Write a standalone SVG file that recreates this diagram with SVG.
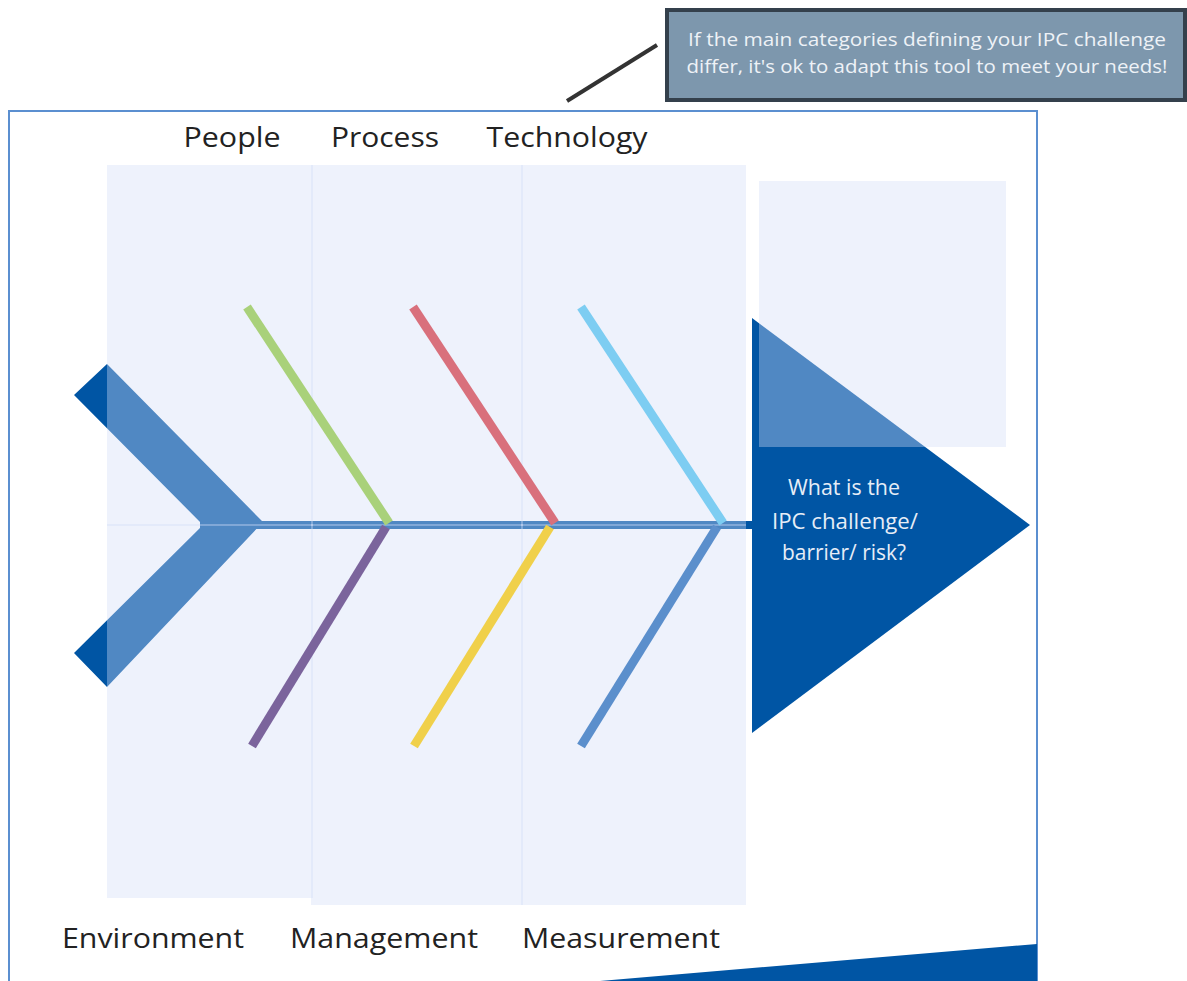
<svg xmlns="http://www.w3.org/2000/svg" width="1187" height="981" viewBox="0 0 1187 981">
<style>
.lbl{font-family:"Open Sans","Noto Sans","Liberation Sans",sans-serif;font-size:27px;fill:#222;text-anchor:middle}
.call{font-family:"Open Sans","Noto Sans","Liberation Sans",sans-serif;font-size:18.5px;fill:#eef2f7;text-anchor:middle}
.q{font-family:"Open Sans","Noto Sans","Liberation Sans",sans-serif;font-size:21px;fill:#e6edf7;text-anchor:middle}
.panel{fill:rgb(210,221,247);fill-opacity:0.38}
.bone{stroke-width:9;fill:none}
</style>
<rect width="1187" height="981" fill="#ffffff"/>
<g id="frame">
<rect x="9" y="111" width="1028" height="872" fill="#ffffff" stroke="#5b8fd0" stroke-width="2"/>
<polygon points="600,981 1037,944 1037,981" fill="#0055a4"/>
</g>
<g id="fish-tail">
<polygon points="74,395 107,364 263,522 107,687 74,653 203,525" fill="#0055a4"/>
</g>
<g id="head">
<polygon points="752,318 1030,525 752,733" fill="#0055a4"/>
</g>
<g id="connectors">
<line x1="200" y1="525" x2="754" y2="525" stroke="#0055a4" stroke-width="8"/>
</g>
<g id="panels">
<rect class="panel" x="107" y="165" width="206" height="361"/>
<rect class="panel" x="107" y="524" width="206" height="374"/>
<rect class="panel" x="311" y="165" width="212" height="361"/>
<rect class="panel" x="311" y="524" width="212" height="381"/>
<rect class="panel" x="521" y="165" width="225" height="361"/>
<rect class="panel" x="521" y="524" width="225" height="381"/>
<rect class="panel" x="759" y="181" width="247" height="266"/>
</g>
<g id="bones">
<line class="bone" x1="247" y1="307" x2="389" y2="523" stroke="#a9d17a"/>
<line class="bone" x1="413" y1="307" x2="555" y2="523" stroke="#d9707c"/>
<line class="bone" x1="581" y1="307" x2="723" y2="523" stroke="#7dcdf2"/>
<line class="bone" x1="386" y1="527" x2="252" y2="746" stroke="#7b649c"/>
<line class="bone" x1="550" y1="527" x2="414" y2="746" stroke="#f0d04a"/>
<line class="bone" x1="717" y1="527" x2="581" y2="746" stroke="#5b8fcc"/>
</g>
<g id="labels">
<text class="lbl" x="232" y="147" textLength="97" lengthAdjust="spacingAndGlyphs">People</text>
<text class="lbl" x="385" y="147" textLength="108" lengthAdjust="spacingAndGlyphs">Process</text>
<text class="lbl" x="567" y="147" textLength="161" lengthAdjust="spacingAndGlyphs">Technology</text>
<text class="lbl" x="153" y="948" textLength="182" lengthAdjust="spacingAndGlyphs">Environment</text>
<text class="lbl" x="384" y="948" textLength="188" lengthAdjust="spacingAndGlyphs">Management</text>
<text class="lbl" x="621" y="948" textLength="198" lengthAdjust="spacingAndGlyphs">Measurement</text>
</g>
<g id="problem">
<text class="q" x="844" y="495" textLength="112" lengthAdjust="spacingAndGlyphs">What is the</text>
<text class="q" x="845" y="529" textLength="146" lengthAdjust="spacingAndGlyphs">IPC challenge/</text>
<text class="q" x="844" y="560" textLength="124" lengthAdjust="spacingAndGlyphs">barrier/ risk?</text>
</g>
<g id="callout">
<line x1="567" y1="101" x2="657" y2="45" stroke="#333333" stroke-width="4"/>
<rect x="667" y="10" width="518" height="90" fill="#7d97ad" stroke="#34404c" stroke-width="4"/>
<text class="call" x="927" y="46" textLength="478" lengthAdjust="spacingAndGlyphs">If the main categories defining your IPC challenge</text>
<text class="call" x="927" y="73" textLength="481" lengthAdjust="spacingAndGlyphs">differ, it's ok to adapt this tool to meet your needs!</text>
</g>
</svg>
